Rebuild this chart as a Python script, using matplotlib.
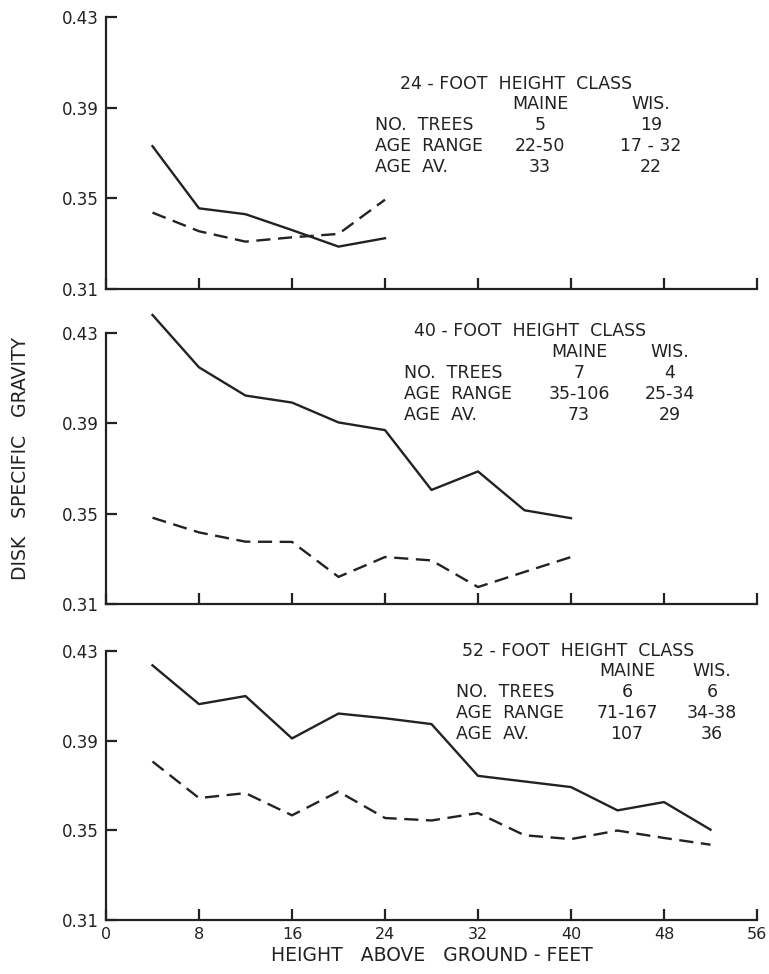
import matplotlib
matplotlib.use("Agg")
import matplotlib.pyplot as plt

# Data
heights_24 = [4, 8, 12, 16, 20, 24]
maine_24 = [0.373, 0.3456, 0.343, 0.336, 0.3287, 0.3324]
wis_24 = [0.3437, 0.3355, 0.3309, 0.3328, 0.3343, 0.3494]

heights_40 = [4, 8, 12, 16, 20, 24, 28, 32, 36, 40]
maine_40 = [0.438, 0.4148, 0.4023, 0.3992, 0.3904, 0.387, 0.3605, 0.3687, 0.3515, 0.348]
wis_40 = [0.3482, 0.3417, 0.3376, 0.3375, 0.322, 0.3308, 0.3293, 0.3175, 0.3242, 0.3308]

heights_52 = [4, 8, 12, 16, 20, 24, 28, 32, 36, 40, 44, 48, 52]
maine_52 = [0.4236, 0.4063, 0.4099, 0.391, 0.4021, 0.400, 0.3974, 0.3743, 0.3718,
            0.3693, 0.3589, 0.3626, 0.3503]
wis_52 = [0.3807, 0.3644, 0.3666, 0.3567, 0.3673, 0.3555, 0.3544, 0.3577, 0.3478,
          0.3461, 0.3499, 0.3466, 0.3436]

class_titles = ["24 - FOOT  HEIGHT  CLASS", "40 - FOOT  HEIGHT  CLASS", "52 - FOOT  HEIGHT  CLASS"]
row_names = ["NO.  TREES", "AGE  RANGE", "AGE  AV."]
maine_rows = [["5", "22-50", "33"], ["7", "35-106", "73"], ["6", "71-167", "107"]]
wis_rows = [["19", "17 - 32", "22"], ["4", "25-34", "29"], ["6", "34-38", "36"]]

y_ticks = [0.31, 0.35, 0.39, 0.43]
y_tick_labels = ["0.31", "0.35", "0.39", "0.43"]
x_ticks = [0, 8, 16, 24, 32, 40, 48, 56]

W, H = 769, 974
ink = "#222222"

fig = plt.figure(figsize=(W / 100, H / 100), dpi=100)
fig.patch.set_facecolor("white")


def fx(px):
    return px / W


def fy(py):
    return 1 - py / H


# axes boxes in pixels: (top, bottom)
boxes = [(17, 289), (333, 604), (651, 920)]
left_px, right_px = 106, 757

series = [
    (heights_24, maine_24, wis_24),
    (heights_40, maine_40, wis_40),
    (heights_52, maine_52, wis_52),
]

# text anchors (pixels): title left, title y, name x, maine x, wis x, header y, row spacing
text_pos = [
    (400, 84, 375, 540, 651, 104, 21),
    (414, 331, 404, 579, 670, 352, 21),
    (462, 651, 456, 627, 712, 671, 21),
]

for i, (top, bottom) in enumerate(boxes):
    ax = fig.add_axes([fx(left_px), fy(bottom), fx(right_px - left_px), (bottom - top) / H])
    xs, maine, wis = series[i]
    ax.plot(xs, maine, color=ink, lw=1.7, clip_on=False)
    ax.plot(xs, wis, color=ink, lw=1.7, dashes=(6.0, 3.2), clip_on=False)

    ax.set_xlim(0, 56)
    ax.set_ylim(0.31, 0.43)
    ax.spines["top"].set_visible(False)
    ax.spines["right"].set_visible(False)
    for s in ["left", "bottom"]:
        ax.spines[s].set_linewidth(1.6)
        ax.spines[s].set_color(ink)

    ax.set_yticks(y_ticks)
    ax.set_yticklabels(y_tick_labels)
    ax.set_xticks(x_ticks)
    ax.tick_params(direction="in", length=8, width=1.6, color=ink, labelcolor=ink, pad=5)
    ax.tick_params(axis="y", labelsize=12)
    ax.tick_params(axis="x", labelsize=11.5)
    if i < 2:
        ax.set_xticklabels([])
    else:
        ax.set_xticklabels([str(v) for v in x_ticks])
        ax.set_xlabel("HEIGHT   ABOVE   GROUND - FEET", fontsize=13.5, color=ink, labelpad=3)

    # info block
    tx, ty, nx, mx, wx, hy, dy = text_pos[i]
    fs = 12.5
    fig.text(fx(tx), fy(ty), class_titles[i], fontsize=fs, color=ink, va="center", ha="left")
    fig.text(fx(mx), fy(hy), "MAINE", fontsize=fs, color=ink, va="center", ha="center")
    fig.text(fx(wx), fy(hy), "WIS.", fontsize=fs, color=ink, va="center", ha="center")
    for r, name in enumerate(row_names):
        ry = hy + dy * (r + 1)
        fig.text(fx(nx), fy(ry), name, fontsize=fs, color=ink, va="center", ha="left")
        fig.text(fx(mx), fy(ry), maine_rows[i][r], fontsize=fs, color=ink, va="center", ha="center")
        fig.text(fx(wx), fy(ry), wis_rows[i][r], fontsize=fs, color=ink, va="center", ha="center")

fig.text(fx(21), fy(458), "DISK   SPECIFIC   GRAVITY", rotation=90, fontsize=13.5, color=ink,
         va="center", ha="center")

fig.savefig("out.png", dpi=100, facecolor="white")
